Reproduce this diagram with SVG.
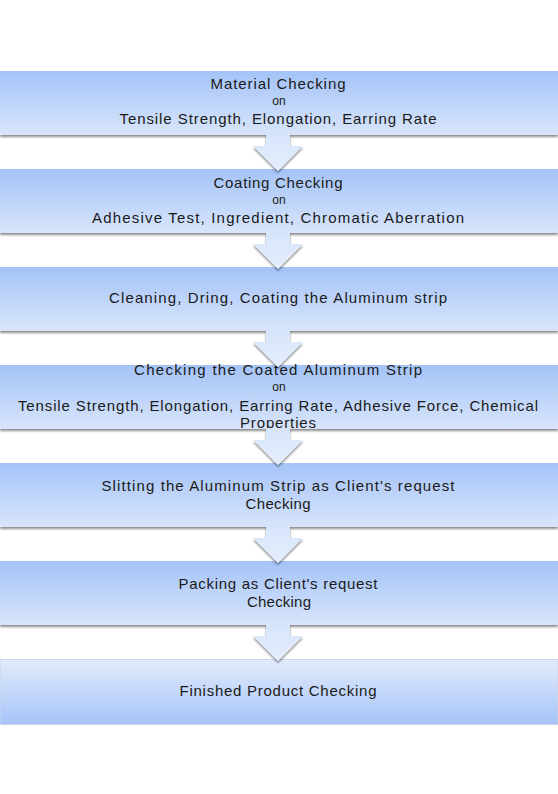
<svg xmlns="http://www.w3.org/2000/svg" width="558" height="794" viewBox="0 0 558 794">
<defs>
<linearGradient id="gBox" x1="0" y1="0" x2="0" y2="1">
<stop offset="0" stop-color="#a4c3f7"/>
<stop offset="1" stop-color="#d8e5fb"/>
</linearGradient>
<linearGradient id="gBoxR" x1="0" y1="0" x2="0" y2="1">
<stop offset="0" stop-color="#e2ebfc"/>
<stop offset="1" stop-color="#a6c4f8"/>
</linearGradient>
<linearGradient id="gArr" x1="0" y1="0" x2="0" y2="1">
<stop offset="0" stop-color="#d6e4fb"/>
<stop offset="1" stop-color="#e6eefc"/>
</linearGradient>
<filter id="sh" x="-5%" y="-20%" width="110%" height="150%">
<feGaussianBlur in="SourceAlpha" stdDeviation="1.2"/>
<feOffset dx="0" dy="2" result="b"/>
<feComponentTransfer><feFuncA type="linear" slope="0.45"/></feComponentTransfer>
<feMerge><feMergeNode/><feMergeNode in="SourceGraphic"/></feMerge>
</filter>
</defs>
<style>
.box{fill:url(#gBox);filter:url(#sh);}
.boxr{fill:url(#gBoxR);stroke:#c9d6ea;stroke-width:1;}
.arr{fill:url(#gArr);filter:url(#sh);}
text{font-family:"Liberation Sans",Arial,sans-serif;font-size:15px;fill:#1a1a1a;text-anchor:middle;}
.on{font-size:12px;}
</style>
<rect width="558" height="794" fill="#ffffff"/>
<g id="n1"><rect class="box" x="0" y="71" width="558" height="64"/>
<text x="278" y="89" textLength="135">Material Checking</text>
<text class="on" x="279" y="105">on</text>
<text x="278" y="124" textLength="317">Tensile Strength, Elongation, Earring Rate</text></g>
<g id="n2"><rect class="box" x="0" y="169" width="558" height="64"/>
<text x="278" y="188" textLength="129">Coating Checking</text>
<text class="on" x="279" y="204">on</text>
<text x="278" y="223" textLength="372">Adhesive Test, Ingredient, Chromatic  Aberration</text></g>
<g id="n3"><rect class="box" x="0" y="267" width="558" height="64"/>
<text x="278" y="303" textLength="338">Cleaning, Dring, Coating the Aluminum strip</text></g>
<g id="n4"><rect class="box" x="0" y="365" width="558" height="64"/>
<text x="278" y="375" textLength="288">Checking  the Coated Aluminum Strip</text>
<text class="on" x="279" y="391">on</text>
<text x="278" y="411" textLength="520">Tensile Strength, Elongation, Earring Rate, Adhesive Force, Chemical</text>
<text x="278" y="428" textLength="76">Properties</text></g>
<g id="n5"><rect class="box" x="0" y="463" width="558" height="64"/>
<text x="278" y="491" textLength="353">Slitting the Aluminum Strip as Client's request</text>
<text x="278" y="509" textLength="65">Checking</text></g>
<g id="n6"><rect class="box" x="0" y="561" width="558" height="64"/>
<text x="278" y="589" textLength="199">Packing as Client's request</text>
<text x="279" y="607" textLength="64">Checking</text></g>
<g id="n7"><rect class="boxr" x="0" y="659.5" width="558" height="65"/>
<text x="278" y="696" textLength="197">Finished Product Checking</text></g>
<g id="connectors">
<polygon class="arr" points="266,134 290,134 290,146 303,146 278,171 253,146 266,146"/>
<polygon class="arr" points="266,232 290,232 290,244 303,244 278,269 253,244 266,244"/>
<polygon class="arr" points="266,330 290,330 290,342 303,342 278,367 253,342 266,342"/>
<polygon class="arr" points="266,428 290,428 290,440 303,440 278,465 253,440 266,440"/>
<polygon class="arr" points="266,526 290,526 290,538 303,538 278,563 253,538 266,538"/>
<polygon class="arr" points="266,624 290,624 290,636 303,636 278,661 253,636 266,636"/>
</g>
</svg>
